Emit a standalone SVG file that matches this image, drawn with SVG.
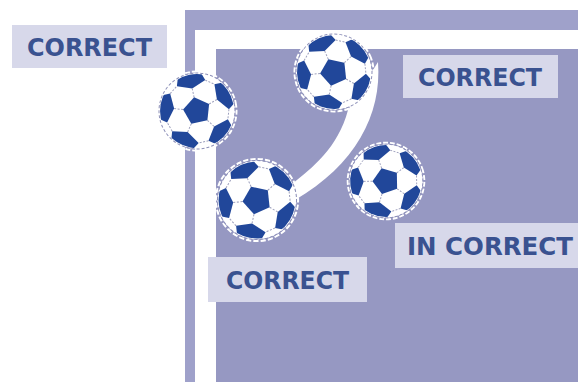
<svg xmlns="http://www.w3.org/2000/svg" xmlns:xlink="http://www.w3.org/1999/xlink" width="578" height="382" viewBox="0 0 578 382">
  <style>
    .box { fill: #d7d8ea; }
    .lbl { font-family: "DejaVu Sans", Verdana, sans-serif; font-weight: bold; font-size: 24px; fill: #3a5290; }
    .patch { fill: #21479a; }
    .seam { fill: none; stroke: #9ea0bd; stroke-width: 1; stroke-dasharray: 2 1.5; }
  </style>
  <defs>
    <clipPath id="ballclip"><circle cx="0" cy="0" r="37"/></clipPath>
    <g id="sector">
      <polygon class="patch" points="0,-23 14.5,-28.5 10,-42 -10,-42 -14.5,-28.5"/>
      <path class="seam" d="M0,-14 L0,-23 M14.5,-28.5 L22.6,-22.6"/>
    </g>
    <g id="ball">
      <circle r="39.5" fill="none" stroke="#ffffff" stroke-width="2" stroke-dasharray="5 2"/>
      <circle r="38" fill="#ffffff" stroke="#8d90b8" stroke-width="1" stroke-dasharray="3 2"/>
      <g clip-path="url(#ballclip)">
        <use href="#sector"/>
        <use href="#sector" transform="rotate(72)"/>
        <use href="#sector" transform="rotate(144)"/>
        <use href="#sector" transform="rotate(216)"/>
        <use href="#sector" transform="rotate(288)"/>
      </g>
      <polygon class="patch" points="0,-14 13.31,-4.33 8.23,11.33 -8.23,11.33 -13.31,-4.33"/>
    </g>
  </defs>

  <rect width="578" height="382" fill="#ffffff"/>

  <g id="field">
    <rect x="185" y="10" width="393" height="372" fill="#9fa1ca"/>
    <rect x="195" y="30" width="383" height="352" fill="#ffffff"/>
    <rect x="216" y="49" width="362" height="333" fill="#9698c2"/>
  </g>

  <g id="connectors">
    <path id="trail" d="M378,62 C382,115 355,165 295,200 L292,184 C312,168 338,148 348,110 Z" fill="#ffffff"/>
  </g>

  <g id="ball1"><use href="#ball" transform="translate(197,111) rotate(-12)"/></g>
  <g id="ball2"><use href="#ball" transform="translate(334,72) rotate(-24)"/></g>
  <g id="ball3"><use href="#ball" transform="translate(257,200) rotate(-24) scale(1.04)"/></g>
  <g id="ball4"><use href="#ball" transform="translate(386,181) rotate(-19) scale(0.97)"/></g>

  <g id="label1">
    <rect class="box" x="12" y="25" width="155" height="43"/>
    <text class="lbl" x="27" y="56" textLength="125" lengthAdjust="spacingAndGlyphs">CORRECT</text>
  </g>
  <g id="label2">
    <rect class="box" x="403" y="55" width="155" height="43"/>
    <text class="lbl" x="418" y="86" textLength="124" lengthAdjust="spacingAndGlyphs">CORRECT</text>
  </g>
  <g id="label3">
    <rect class="box" x="208" y="257" width="159" height="45"/>
    <text class="lbl" x="226" y="289" textLength="123" lengthAdjust="spacingAndGlyphs">CORRECT</text>
  </g>
  <g id="label4">
    <rect class="box" x="395" y="223" width="183" height="45"/>
    <text class="lbl" x="407" y="255" textLength="166" lengthAdjust="spacingAndGlyphs">IN CORRECT</text>
  </g>
</svg>
